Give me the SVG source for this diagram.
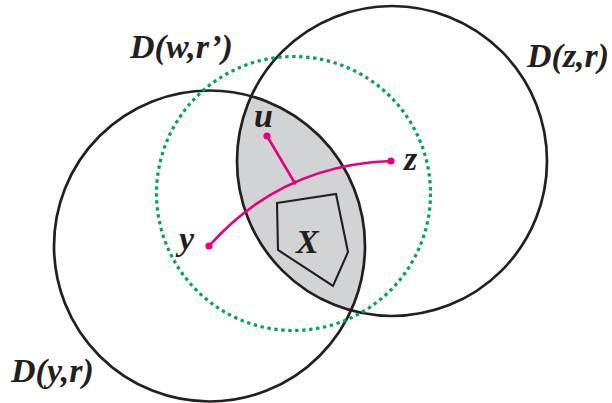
<svg xmlns="http://www.w3.org/2000/svg" width="612" height="403" viewBox="0 0 612 403">
  <style>
    .disk { fill: none; stroke: #231f20; stroke-width: 2.7; }
    .dotted { fill: none; stroke: #00a651; stroke-width: 3.2; stroke-dasharray: 3.4 3.6; }
    .lens { fill: #d1d3d4; stroke: none; }
    .poly { fill: none; stroke: #231f20; stroke-width: 2.1; stroke-linejoin: miter; }
    .path { fill: none; stroke: #e6007e; stroke-width: 2.6; }
    .pt { fill: #e6007e; }
    .lbl { font-family: "Liberation Serif", "Times New Roman", serif; font-weight: bold; font-style: italic; fill: #231f20; font-size: 34px; }
  </style>
  <rect width="612" height="403" fill="#ffffff"/>
  <g id="lens">
    <path class="lens" d="M251.2,96.1 A155.5,155.5 0 0 1 351,310.5 A155,155 0 0 1 251.2,96.1 Z"/>
  </g>
  <g id="disk-y">
    <circle class="disk" cx="209.5" cy="246" r="155.5"/>
    <text class="lbl" x="11" y="382">D(y,r)</text>
  </g>
  <g id="disk-z">
    <circle class="disk" cx="392" cy="161" r="155"/>
    <text class="lbl" x="527" y="67">D(z,r)</text>
  </g>
  <g id="disk-w">
    <circle class="dotted" cx="293.5" cy="193.5" r="137"/>
    <text class="lbl" x="130" y="58">D(w,r’)</text>
  </g>
  <g id="set-X">
    <polygon class="poly" points="277,203 336,194 348,252 333,286 278,250"/>
    <text class="lbl" x="296" y="253" font-size="38">X</text>
  </g>
  <g id="connectors">
    <path class="path" d="M209,246 Q281,165 391,161"/>
    <line class="path" x1="267" y1="136" x2="294.5" y2="182.5"/>
  </g>
  <g id="point-y">
    <circle class="pt" cx="209" cy="246" r="3.6"/>
    <text class="lbl" x="179" y="250">y</text>
  </g>
  <g id="point-z">
    <circle class="pt" cx="391" cy="161" r="3.6"/>
    <text class="lbl" x="404" y="170">z</text>
  </g>
  <g id="point-u">
    <circle class="pt" cx="267" cy="136" r="3.6"/>
    <circle class="pt" cx="294.5" cy="182.5" r="2.2"/>
    <text class="lbl" x="254" y="127">u</text>
  </g>
</svg>
